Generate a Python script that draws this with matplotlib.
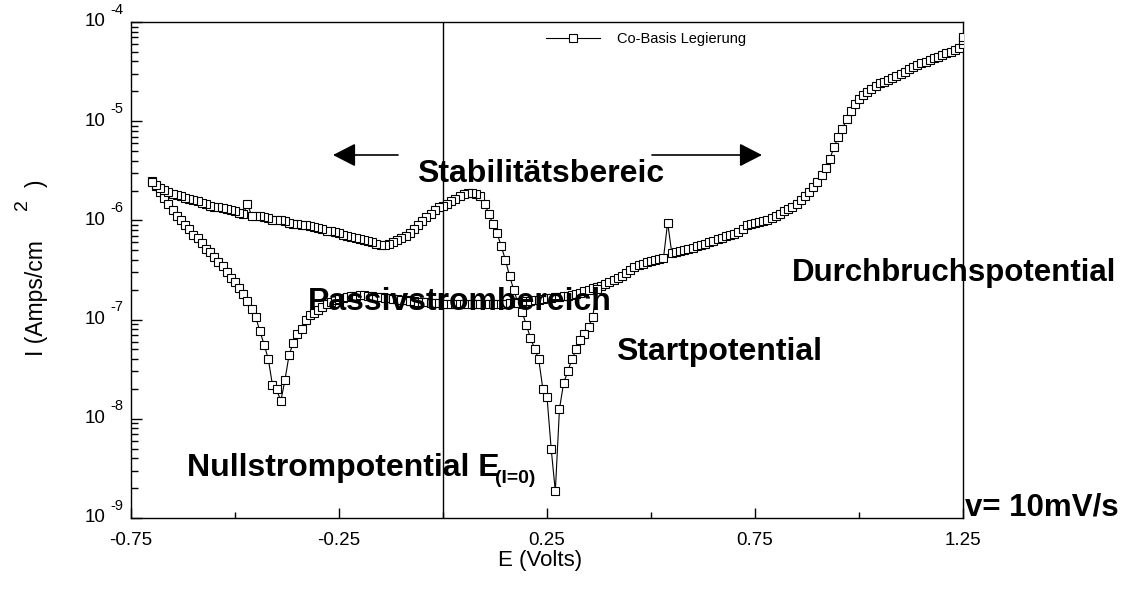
import matplotlib
matplotlib.use('Agg')
import matplotlib.pyplot as plt
from matplotlib.ticker import FixedLocator, NullFormatter

plt.rcParams['font.family'] = ['Liberation Sans', 'DejaVu Sans']

# Hinlauf: -0.70 V bis 1.25 V
E_fwd = [-0.70, -0.69, -0.68, -0.67, -0.66, -0.65, -0.64, -0.63, -0.62, -0.61,
         -0.60, -0.59, -0.58, -0.57, -0.56, -0.55, -0.54, -0.53, -0.52, -0.51,
         -0.50, -0.49, -0.48, -0.47, -0.46, -0.45, -0.44, -0.43, -0.42, -0.41,
         -0.40, -0.39, -0.38, -0.37, -0.36, -0.35, -0.34, -0.33, -0.32, -0.31,
         -0.30, -0.29, -0.28, -0.27, -0.26, -0.25, -0.24, -0.23, -0.22, -0.21,
         -0.20, -0.19, -0.18, -0.17, -0.16, -0.15, -0.14, -0.13, -0.12, -0.11,
         -0.10, -0.09, -0.08, -0.07, -0.06, -0.05, -0.04, -0.03, -0.02, -0.01,
         0.00, 0.01, 0.02, 0.03, 0.04, 0.05, 0.06, 0.07, 0.08, 0.09,
         0.10, 0.11, 0.12, 0.13, 0.14, 0.15, 0.16, 0.17, 0.18, 0.19,
         0.20, 0.21, 0.22, 0.23, 0.24, 0.25, 0.26, 0.27, 0.28, 0.29,
         0.30, 0.31, 0.32, 0.33, 0.34, 0.35, 0.36, 0.37, 0.38, 0.39,
         0.40, 0.41, 0.42, 0.43, 0.44, 0.45, 0.46, 0.47, 0.48, 0.49,
         0.50, 0.51, 0.52, 0.53, 0.54, 0.55, 0.56, 0.57, 0.58, 0.59,
         0.60, 0.61, 0.62, 0.63, 0.64, 0.65, 0.66, 0.67, 0.68, 0.69,
         0.70, 0.71, 0.72, 0.73, 0.74, 0.75, 0.76, 0.77, 0.78, 0.79,
         0.80, 0.81, 0.82, 0.83, 0.84, 0.85, 0.86, 0.87, 0.88, 0.89,
         0.90, 0.91, 0.92, 0.93, 0.94, 0.95, 0.96, 0.97, 0.98, 0.99,
         1.00, 1.01, 1.02, 1.03, 1.04, 1.05, 1.06, 1.07, 1.08, 1.09,
         1.10, 1.11, 1.12, 1.13, 1.14, 1.15, 1.16, 1.17, 1.18, 1.19,
         1.20, 1.21, 1.22, 1.23, 1.24, 1.25, 1.25, 1.25]
I_fwd = [2.5e-6, 2.24e-6, 1.95e-6, 1.70e-6, 1.45e-6, 1.26e-6, 1.12e-6, 1.0e-6, 8.9e-7, 8.1e-7,
         7.2e-7, 6.6e-7, 5.9e-7, 5.2e-7, 4.8e-7, 4.3e-7, 3.8e-7, 3.5e-7, 3.0e-7, 2.6e-7,
         2.4e-7, 2.1e-7, 1.8e-7, 1.55e-7, 1.29e-7, 1.05e-7, 7.6e-8, 5.6e-8, 4.0e-8, 2.2e-8,
         2.0e-8, 1.5e-8, 2.45e-8, 4.4e-8, 5.8e-8, 7.2e-8, 8.1e-8, 9.8e-8, 1.10e-7, 1.17e-7,
         1.26e-7, 1.35e-7, 1.45e-7, 1.51e-7, 1.58e-7, 1.62e-7, 1.66e-7, 1.70e-7, 1.74e-7, 1.74e-7,
         1.78e-7, 1.78e-7, 1.74e-7, 1.74e-7, 1.70e-7, 1.70e-7, 1.66e-7, 1.66e-7, 1.62e-7, 1.62e-7,
         1.58e-7, 1.58e-7, 1.55e-7, 1.55e-7, 1.51e-7, 1.51e-7, 1.51e-7, 1.48e-7, 1.48e-7, 1.48e-7,
         1.45e-7, 1.45e-7, 1.44e-7, 1.45e-7, 1.44e-7, 1.43e-7, 1.44e-7, 1.45e-7, 1.44e-7, 1.43e-7,
         1.44e-7, 1.44e-7, 1.45e-7, 1.44e-7, 1.45e-7, 1.45e-7, 1.48e-7, 1.48e-7, 1.51e-7, 1.51e-7,
         1.55e-7, 1.55e-7, 1.58e-7, 1.58e-7, 1.62e-7, 1.66e-7, 1.66e-7, 1.70e-7, 1.70e-7, 1.74e-7,
         1.74e-7, 1.78e-7, 1.82e-7, 1.86e-7, 1.95e-7, 2.0e-7, 2.1e-7, 2.14e-7, 2.19e-7, 2.29e-7,
         2.40e-7, 2.51e-7, 2.63e-7, 2.75e-7, 2.95e-7, 3.16e-7, 3.39e-7, 3.55e-7, 3.63e-7, 3.80e-7,
         3.89e-7, 3.98e-7, 4.07e-7, 4.17e-7, 9.5e-7, 4.68e-7, 4.79e-7, 4.90e-7, 5.01e-7, 5.13e-7,
         5.25e-7, 5.50e-7, 5.62e-7, 5.75e-7, 6.03e-7, 6.17e-7, 6.46e-7, 6.61e-7, 6.92e-7, 7.08e-7,
         7.24e-7, 7.59e-7, 8.13e-7, 8.91e-7, 9.12e-7, 9.33e-7, 9.55e-7, 9.77e-7, 1.00e-6, 1.05e-6,
         1.10e-6, 1.17e-6, 1.23e-6, 1.29e-6, 1.38e-6, 1.48e-6, 1.62e-6, 1.78e-6, 1.95e-6, 2.19e-6,
         2.45e-6, 2.88e-6, 3.39e-6, 4.17e-6, 5.50e-6, 6.92e-6, 8.32e-6, 1.05e-5, 1.26e-5, 1.48e-5,
         1.66e-5, 1.82e-5, 1.95e-5, 2.09e-5, 2.24e-5, 2.40e-5, 2.51e-5, 2.63e-5, 2.75e-5, 2.88e-5,
         3.02e-5, 3.16e-5, 3.39e-5, 3.55e-5, 3.72e-5, 3.89e-5, 3.98e-5, 4.17e-5, 4.37e-5, 4.47e-5,
         4.68e-5, 4.90e-5, 5.01e-5, 5.25e-5, 5.50e-5, 6.03e-5, 6.6e-5, 7.0e-5]

# Rücklauf: ab 0.37 V (davor deckungsgleich mit dem Hinlauf) bis -0.70 V
E_rev = [0.37, 0.36, 0.35, 0.34, 0.33, 0.32, 0.31, 0.30, 0.29, 0.28,
         0.27, 0.26, 0.25, 0.24, 0.23, 0.22, 0.21, 0.20, 0.19, 0.18,
         0.17, 0.16, 0.15, 0.14, 0.13, 0.12, 0.11, 0.10, 0.09, 0.08,
         0.07, 0.06, 0.05, 0.04, 0.03, 0.02, 0.01, 0.00, -0.01, -0.02,
         -0.03, -0.04, -0.05, -0.06, -0.07, -0.08, -0.09, -0.10, -0.11, -0.12,
         -0.13, -0.14, -0.15, -0.16, -0.17, -0.18, -0.19, -0.20, -0.21, -0.22,
         -0.23, -0.24, -0.25, -0.26, -0.27, -0.28, -0.29, -0.30, -0.31, -0.32,
         -0.33, -0.34, -0.35, -0.36, -0.37, -0.38, -0.39, -0.40, -0.41, -0.42,
         -0.43, -0.44, -0.45, -0.46, -0.47, -0.48, -0.49, -0.50, -0.51, -0.52,
         -0.53, -0.54, -0.55, -0.56, -0.57, -0.58, -0.59, -0.60, -0.61, -0.62,
         -0.63, -0.64, -0.65, -0.66, -0.67, -0.68, -0.69, -0.70]
I_rev = [2.04e-7, 1.07e-7, 8.5e-8, 7.2e-8, 6.2e-8, 5.0e-8, 4.0e-8, 3.0e-8, 2.3e-8, 1.26e-8,
         1.86e-9, 5.0e-9, 1.66e-8, 2.0e-8, 4.0e-8, 5.1e-8, 6.6e-8, 8.9e-8, 1.20e-7, 1.48e-7,
         2.0e-7, 2.75e-7, 4.0e-7, 5.5e-7, 7.4e-7, 9.1e-7, 1.17e-6, 1.48e-6, 1.78e-6, 1.86e-6,
         1.91e-6, 1.91e-6, 1.86e-6, 1.78e-6, 1.66e-6, 1.58e-6, 1.48e-6, 1.41e-6, 1.35e-6, 1.26e-6,
         1.17e-6, 1.07e-6, 9.8e-7, 8.9e-7, 8.1e-7, 7.4e-7, 6.9e-7, 6.6e-7, 6.3e-7, 6.0e-7,
         5.75e-7, 5.6e-7, 5.6e-7, 5.75e-7, 6.0e-7, 6.2e-7, 6.3e-7, 6.5e-7, 6.6e-7, 6.8e-7,
         6.9e-7, 7.2e-7, 7.4e-7, 7.6e-7, 7.8e-7, 7.9e-7, 8.1e-7, 8.3e-7, 8.5e-7, 8.7e-7,
         8.9e-7, 8.9e-7, 9.1e-7, 9.3e-7, 9.5e-7, 9.8e-7, 1.0e-6, 1.0e-6, 1.02e-6, 1.05e-6,
         1.07e-6, 1.10e-6, 1.10e-6, 1.12e-6, 1.45e-6, 1.17e-6, 1.20e-6, 1.23e-6, 1.26e-6, 1.29e-6,
         1.32e-6, 1.35e-6, 1.38e-6, 1.41e-6, 1.48e-6, 1.51e-6, 1.58e-6, 1.62e-6, 1.66e-6, 1.70e-6,
         1.78e-6, 1.82e-6, 1.86e-6, 1.95e-6, 2.04e-6, 2.14e-6, 2.29e-6, 2.45e-6]

x_major = [-0.75, -0.25, 0.25, 0.75, 1.25]
x_labels = ['-0.75', '-0.25', '0.25', '0.75', '1.25']
x_minor = [-0.5, 0.0, 0.5, 1.0]
y_exponents = [-9, -8, -7, -6, -5, -4]
series_label = 'Co-Basis Legierung'

W, H = 1131, 600


def px(x, y):
    # Pixelposition (von oben links) -> Figurenkoordinaten
    return x / W, 1 - y / H


fig = plt.figure(figsize=(W / 100, H / 100), dpi=100)
ax = fig.add_axes([131 / W, 82 / H, 832 / W, 496 / H])

style = dict(color='black', lw=0.8, marker='s', ms=5.5, mfc='white', mec='black', mew=0.8)
ax.plot(E_fwd, I_fwd, label=series_label, zorder=3, **style)
ax.plot(E_rev, I_rev, zorder=3, **style)
ax.axvline(0.0, color='black', lw=1.0, zorder=2)

ax.set_yscale('log')
ax.set_xlim(-0.75, 1.25)
ax.set_ylim(1e-9, 1e-4)

ax.set_xticks(x_major)
ax.set_xticklabels(x_labels)
ax.set_xticks(x_minor, minor=True)
ax.yaxis.set_major_locator(FixedLocator([10.0 ** e for e in y_exponents]))
ax.yaxis.set_minor_locator(FixedLocator([m * 10.0 ** e for e in y_exponents[:-1] for m in range(2, 10)]))
ax.yaxis.set_major_formatter(NullFormatter())
ax.yaxis.set_minor_formatter(NullFormatter())

ax.tick_params(which='both', direction='in', top=False, right=False, width=1.0)
ax.tick_params(axis='x', which='major', length=7, labelsize=13.5, pad=10)
ax.tick_params(axis='x', which='minor', length=4.5)
ax.tick_params(axis='y', which='major', length=8)
ax.tick_params(axis='y', which='minor', length=5)
for s in ax.spines.values():
    s.set_linewidth(1.0)

# y-Beschriftung 10^x
for e in y_exponents:
    ax.annotate('10', xy=(0, 10.0 ** e), xycoords=('axes fraction', 'data'),
                xytext=(-18, 0), textcoords='offset points', ha='right', va='center',
                fontsize=13.5)
    ax.annotate(str(e), xy=(0, 10.0 ** e), xycoords=('axes fraction', 'data'),
                xytext=(-15, 9), textcoords='offset points', ha='left', va='center',
                fontsize=10.5)

ax.legend(loc='center left', bbox_to_anchor=(0.4988, 0.9657), frameon=False,
          fontsize=10.5, handlelength=3.7, handletextpad=1.15, borderpad=0,
          borderaxespad=0, numpoints=1)

# Achsentitel
fig.text(*px(540, 566), 'E (Volts)', ha='center', va='baseline', fontsize=16)
fig.text(*px(36, 356), 'I (Amps/cm', rotation=90, ha='center', va='bottom', fontsize=16.5)
fig.text(*px(22, 205), '2', rotation=90, ha='center', va='center', fontsize=14)
fig.text(*px(36, 183), ')', rotation=90, ha='center', va='center', fontsize=16.5)

# Bereiche
bold = dict(fontsize=23, fontweight='bold', va='baseline', ha='left', zorder=2.5)
fig.text(*px(417, 182), 'Stabilitätsbereic', **bold)
fig.text(*px(308, 310), 'Passivstrombereich', **bold)
fig.text(*px(616, 360), 'Startpotential', **bold)
fig.text(*px(792, 281), 'Durchbruchspotential', fontsize=22.5, fontweight='bold',
         va='baseline', ha='left')
fig.text(*px(187, 476), 'Nullstrompotential E', **bold)
fig.text(*px(495, 483), '(I=0)', fontsize=14, fontweight='bold', va='baseline', ha='left')
fig.text(*px(965, 516), 'v= 10mV/s', fontsize=22.5, fontweight='bold', va='baseline', ha='left')

arrow = dict(arrowstyle='-|>,head_length=1.4,head_width=0.72', color='black', lw=1.2,
             shrinkA=0, shrinkB=0)
ax.annotate('', xy=px(333, 155), xycoords='figure fraction',
            xytext=px(398, 155), textcoords='figure fraction', arrowprops=arrow)
ax.annotate('', xy=px(762, 155), xycoords='figure fraction',
            xytext=px(652, 155), textcoords='figure fraction', arrowprops=arrow)

fig.savefig('out.png', dpi=100)
